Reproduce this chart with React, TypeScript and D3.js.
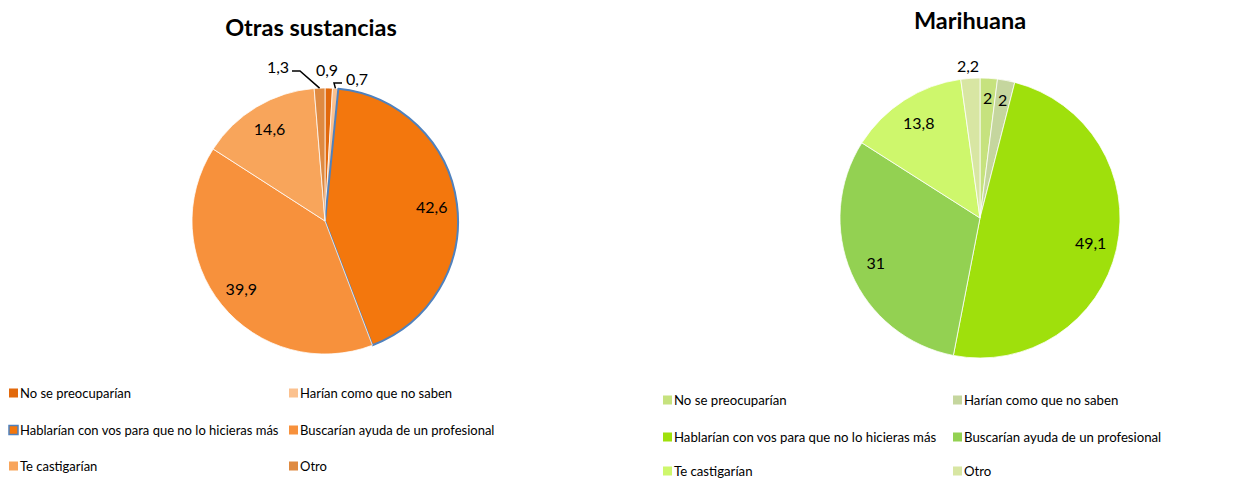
import React from "react";
import * as d3 from "d3";

// categories shared by both pies (legend order)
const categories = [
  "No se preocuparían",
  "Harían como que no saben",
  "Hablarían con vos para que no lo hicieras más",
  "Buscarían ayuda de un profesional",
  "Te castigarían",
  "Otro",
];

const otrasValues = [0.9, 0.7, 42.6, 39.9, 14.6, 1.3];
const marihuanaValues = [2, 2, 49.1, 31, 13.8, 2.2];

const otrasLabels = ["0,9", "0,7", "42,6", "39,9", "14,6", "1,3"];
const marihuanaLabels = ["2", "2", "49,1", "31", "13,8", "2,2"];

const otrasColors = ["#e2690c", "#fbc18f", "#f3770d", "#f7913c", "#f8a55b", "#df8a41"];
const marihuanaColors = ["#c6e27e", "#c5d69e", "#9fe00c", "#93d152", "#cef76c", "#d8e6a3"];

const FONT = "Lato, 'Open Sans', sans-serif";

type Outside = { index: number; dx: number; dy: number; leader?: [number, number][] };

interface PieProps {
  title: string;
  titleY: number;
  titleX: number;
  values: number[];
  labels: string[];
  colors: string[];
  cx: number;
  cy: number;
  r: number;
  outside: Outside[];
  highlight?: number;
  legendX: number[];
  legendY: number[];
  legendFont: number;
}

const PieChart: React.FC<PieProps> = ({
  title, titleX, titleY, values, labels, colors, cx, cy, r, outside, highlight, legendX, legendY, legendFont,
}) => {
  const pie = d3.pie<number>().sort(null).value((d) => d);
  const arcs = pie(values);
  const arc = d3.arc<d3.PieArcDatum<number>>().innerRadius(0).outerRadius(r);
  const polar = (a: number, rr: number): [number, number] => [Math.sin(a) * rr, -Math.cos(a) * rr];

  return (
    <g>
      <text x={titleX} y={titleY} textAnchor="middle" dominantBaseline="central"
        fontFamily={FONT} fontWeight="bold" fontSize={23.5} fill="#000">{title}</text>
      <g transform={`translate(${cx},${cy})`}>
        {arcs.map((a, i) => (
          <path key={i} d={arc(a) || ""} fill={colors[i]}
            stroke={i === highlight ? "#4f81bd" : "#ffffff"}
            strokeWidth={i === highlight ? 2 : 0.75} strokeLinejoin="round" />
        ))}
        {arcs.map((a, i) => {
          const out = outside.find((o) => o.index === i);
          if (out) return null;
          const mid = (a.startAngle + a.endAngle) / 2;
          const f = values[i] < 3 ? 0.86 : 0.81;
          const [x, y] = polar(mid, r * f);
          return (
            <text key={i} x={x} y={y} textAnchor="middle" dominantBaseline="central"
              fontFamily={FONT} fontSize={16} fill="#000">{labels[i]}</text>
          );
        })}
        {outside.map((o) => {
          const a = arcs[o.index];
          const mid = (a.startAngle + a.endAngle) / 2;
          const start = polar(mid, r);
          return (
            <g key={o.index}>
              {o.leader && (
                <polyline fill="none" stroke="#000" strokeWidth={1.5}
                  points={[start, ...o.leader].map((p) => p.join(",")).join(" ")} />
              )}
              <text x={o.dx} y={o.dy} textAnchor="middle" dominantBaseline="central"
                fontFamily={FONT} fontSize={16} fill="#000">{labels[o.index]}</text>
            </g>
          );
        })}
      </g>
      {categories.map((c, i) => {
        const x = legendX[i % 2];
        const y = legendY[Math.floor(i / 2)];
        return (
          <g key={c}>
            <rect x={x} y={y - 4.5} width={9} height={9} fill={colors[i]}
              stroke={i === highlight ? "#4f81bd" : "none"} strokeWidth={i === highlight ? 1.5 : 0} />
            <text x={x + 11} y={y} dominantBaseline="central" fontFamily={FONT} fontSize={legendFont} fill="#000">{c}</text>
          </g>
        );
      })}
    </g>
  );
};

export default function App() {
  return (
    <svg width={1241} height={479} style={{ position: "absolute", left: 0, top: 0, background: "#fff" }}>
      <PieChart
        title="Otras sustancias" titleX={311} titleY={27}
        values={otrasValues} labels={otrasLabels} colors={otrasColors}
        cx={325} cy={221} r={133} highlight={2}
        outside={[
          { index: 5, dx: -47, dy: -155, leader: [[-25, -150], [-33, -150]] },
          { index: 0, dx: 2, dy: -152 },
          { index: 1, dx: 32, dy: -143, leader: [[9, -138], [17, -138]] },
        ]}
        legendX={[9, 289]} legendY={[393, 430, 466]} legendFont={13}
      />
      <PieChart
        title="Marihuana" titleX={970} titleY={20}
        values={marihuanaValues} labels={marihuanaLabels} colors={marihuanaColors}
        cx={980} cy={218} r={140}
        outside={[{ index: 5, dx: -12, dy: -153 }]}
        legendX={[663, 953]} legendY={[400, 437, 471]} legendFont={13.2}
      />
    </svg>
  );
}
